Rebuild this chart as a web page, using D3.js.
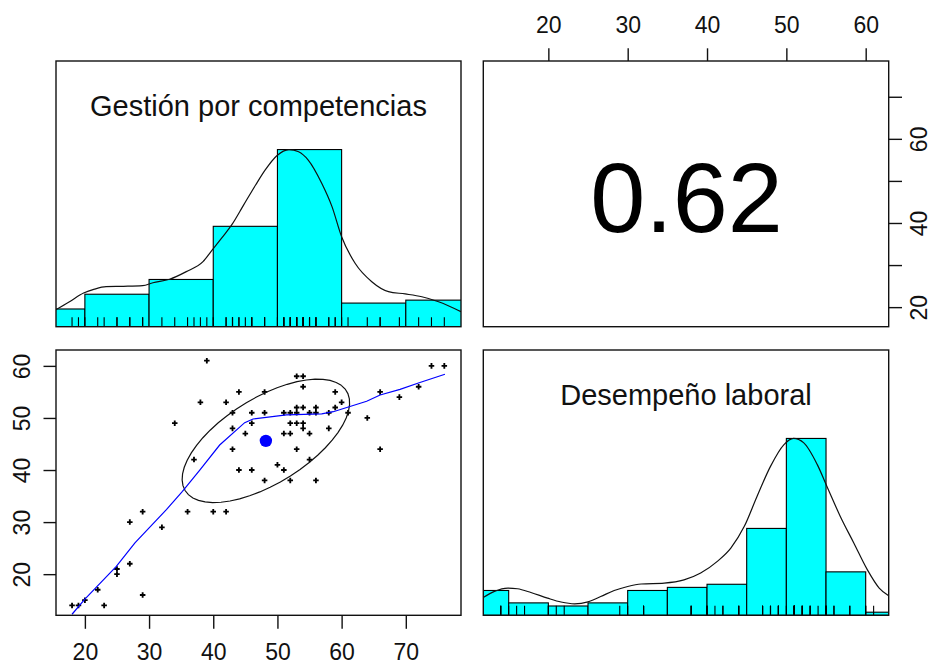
<!DOCTYPE html>
<html>
<head>
<meta charset="utf-8">
<script src="https://cdn.jsdelivr.net/npm/d3@7"></script>
<style>
  html, body { margin: 0; padding: 0; background: #fff; }
  svg { display: block; font-family: "Liberation Sans", Arial, Helvetica, sans-serif; }
</style>
</head>
<body>
<svg id="chart" width="932" height="664"></svg>
<script>
// ---- data ----------------------------------------------------------------
const varNames = ["Gestión por competencias", "Desempeño laboral"];
const correlation = 0.62;

// histogram bins (counts per bin between consecutive breaks)
const gestionBreaks = [10, 20, 30, 40, 50, 60, 70, 80];
const gestionCounts = [6, 11, 16, 34, 60, 8, 9];
const desempenoBreaks = [10, 15, 20, 25, 30, 35, 40, 45, 50, 55, 60, 65];
const desempenoCounts = [8, 4, 3, 4, 8, 9, 10, 28, 57, 14, 1];

// kernel density, scaled to its own maximum: [value, relative height]
const gestionDensity = [
  [15.4, 0.094], [17.6, 0.141], [19.8, 0.19], [21.5, 0.212], [23.3, 0.226],
  [26.0, 0.228], [29.0, 0.232], [30.6, 0.248], [33.2, 0.268], [35.8, 0.311],
  [38.4, 0.367], [39.7, 0.426], [41.3, 0.50], [42.9, 0.576], [44.7, 0.685],
  [46.6, 0.80], [48.1, 0.885], [49.9, 0.965], [51.8, 1.0], [53.3, 0.988],
  [54.8, 0.941], [56.9, 0.81], [58.5, 0.678], [60.0, 0.508], [62.1, 0.358],
  [64.7, 0.254], [67.3, 0.198], [69.9, 0.185], [72.5, 0.169], [75.1, 0.141],
  [78.6, 0.085]
];
const desempenoDensity = [
  [11.8, 0.10], [13.2, 0.135], [14.9, 0.154], [16.1, 0.15], [17.8, 0.129],
  [19.9, 0.097], [21.6, 0.075], [23.3, 0.065], [25.0, 0.076], [26.6, 0.106],
  [28.3, 0.14], [30.0, 0.163], [31.7, 0.177], [34.6, 0.182], [37.1, 0.2],
  [39.2, 0.239], [41.3, 0.305], [43.0, 0.38], [44.7, 0.503], [46.3, 0.672],
  [48.0, 0.842], [49.7, 0.965], [50.9, 1.0], [52.2, 0.975], [53.9, 0.852],
  [55.2, 0.72], [56.8, 0.559], [58.5, 0.409], [60.2, 0.258], [61.7, 0.154],
  [62.9, 0.11]
];

// raw scores, one entry per respondent
const gestionScores = [18, 19, 20, 22, 23, 25, 25, 27, 27, 29, 29, 32, 34, 36, 37, 38, 39, 40,
  42, 42, 43, 43, 43, 44, 44, 45, 46, 46, 46, 48, 48, 48, 50, 51, 51, 51, 52, 52, 52, 52,
  53, 53, 53, 53, 53, 54, 54, 54, 54, 54, 55, 55, 55, 56, 56, 56, 58, 58, 59, 59, 60, 61,
  64, 66, 66, 69, 72, 74, 76];
const desempenoScores = [14, 14, 15, 17, 14, 21, 20, 30, 22, 32, 16, 29, 49, 32, 42, 53, 61, 32,
  53, 32, 51, 48, 44, 55, 40, 47, 51, 49, 40, 55, 51, 38, 41, 51, 47, 40, 51, 47, 49, 38,
  58, 52, 51, 49, 44, 58, 56, 52, 49, 48, 51, 47, 42, 52, 51, 38, 51, 48, 55, 52, 53, 51,
  50, 55, 44, 54, 56, 60, 60];

// locally weighted smoother through the scatter: [gestión, desempeño]
const loessFit = [
  [18.0, 12.3], [20.0, 15.2], [24.9, 21.5], [27.8, 26.0], [32.7, 32.4], [35.2, 35.9],
  [37.9, 40.0], [41.0, 44.8], [44.9, 49.1], [46.2, 49.8], [51.4, 50.6], [56.9, 50.8],
  [58.7, 51.2], [61.3, 52.2], [63.9, 53.2], [66.0, 54.4], [69.1, 55.5], [72.2, 56.8],
  [76.1, 58.4]
];

// bivariate summary for the correlation ellipse
const means = [48.2, 45.6];
const sds = [13.05, 11.85];

// axis ticks
const gestionTicks = [20, 30, 40, 50, 60, 70];
const desempenoTicks = [20, 30, 40, 50, 60];
const gestionRightLabels = [20, 40, 60];

// ---- layout ----------------------------------------------------------------
const svg = d3.select("#chart");
const cols = [[56, 461], [483.3, 888.7]];
const rows = [[61, 326.7], [350, 615.3]];
const tickFont = "23px";

const xG = d3.scaleLinear().domain([15.5, 78.6]).range(cols[0]);
const xD = d3.scaleLinear().domain([11.8, 62.9]).range(cols[1]);
const yG = d3.scaleLinear().domain([15.35, 78.5]).range([rows[0][1], rows[0][0]]);
const yD = d3.scaleLinear().domain([12.1, 63.05]).range([rows[1][1], rows[1][0]]);
const hTop = d3.scaleLinear().domain([0, 1.5]).range([rows[0][1], rows[0][0]]);
const hBot = d3.scaleLinear().domain([0, 1.5]).range([rows[1][1], rows[1][0]]);

const defs = svg.append("defs");
function panel(id, c, r) {
  defs.append("clipPath").attr("id", id).append("rect")
    .attr("x", c[0]).attr("y", r[0]).attr("width", c[1] - c[0]).attr("height", r[1] - r[0]);
  return svg.append("g").attr("clip-path", `url(#${id})`);
}
function frame(c, r) {
  svg.append("rect").attr("x", c[0]).attr("y", r[0])
    .attr("width", c[1] - c[0]).attr("height", r[1] - r[0])
    .attr("fill", "none").attr("stroke", "#111").attr("stroke-width", 1.4);
}

// ---- diagonal: histogram + density + rug ---------------------------------
function histPanel(id, c, r, breaks, counts, density, scores, xs, hs, title) {
  const g = panel(id, c, r);
  const maxC = d3.max(counts);
  g.selectAll("rect.bar").data(counts).join("rect").attr("class", "bar")
    .attr("x", (d, i) => xs(breaks[i]))
    .attr("width", (d, i) => xs(breaks[i + 1]) - xs(breaks[i]))
    .attr("y", d => hs(d / maxC))
    .attr("height", d => hs(0) - hs(d / maxC))
    .attr("fill", "#00FFFF").attr("stroke", "#000").attr("stroke-width", 1.1);
  g.append("path").datum(density)
    .attr("d", d3.line().x(d => xs(d[0])).y(d => hs(d[1])).curve(d3.curveMonotoneX))
    .attr("fill", "none").attr("stroke", "#111").attr("stroke-width", 1.2);
  g.selectAll("line.rug").data(scores).join("line").attr("class", "rug")
    .attr("x1", d => xs(d)).attr("x2", d => xs(d))
    .attr("y1", hs(0)).attr("y2", hs(0) - 9.5)
    .attr("stroke", "#000").attr("stroke-width", 1.1);
  svg.append("text").attr("x", (c[0] + c[1]) / 2).attr("y", r[0] + 55)
    .attr("text-anchor", "middle").attr("font-size", "29px").attr("fill", "#111")
    .text(title);
  frame(c, r);
}

histPanel("clipA", cols[0], rows[0], gestionBreaks, gestionCounts, gestionDensity,
  gestionScores, xG, hTop, varNames[0]);
histPanel("clipD", cols[1], rows[1], desempenoBreaks, desempenoCounts, desempenoDensity,
  desempenoScores, xD, hBot, varNames[1]);

// ---- upper panel: correlation ----------------------------------------------
svg.append("text")
  .attr("x", (cols[1][0] + cols[1][1]) / 2 + 0.5).attr("y", 231.7)
  .attr("text-anchor", "middle").attr("font-size", "99px").attr("fill", "#000")
  .text(correlation.toFixed(2));
frame(cols[1], rows[0]);

// ---- lower panel: scatter, smoother, ellipse -------------------------------
const gs = panel("clipC", cols[0], rows[1]);
const pts = d3.zip(gestionScores, desempenoScores);
gs.selectAll("path.pt").data(pts).join("path").attr("class", "pt")
  .attr("transform", d => `translate(${xG(d[0])},${yD(d[1])})`)
  .attr("d", d3.symbol(d3.symbolCross, 17))
  .attr("fill", "#000");

function ellipsePoints(mx, my, sx, sy, r, segments) {
  const th = Math.sign(r) / Math.SQRT2, a = Math.sqrt(1 + r), b = Math.sqrt(1 - r);
  return d3.range(segments + 1).map(i => {
    const ang = i * 2 * Math.PI / segments, c = Math.cos(ang), s = Math.sin(ang);
    return [mx + sx * (c * a * th - s * b * th), my + sy * (c * a * th + s * b * th)];
  });
}
gs.append("path").datum(ellipsePoints(means[0], means[1], sds[0], sds[1], correlation, 51))
  .attr("d", d3.line().x(d => xG(d[0])).y(d => yD(d[1])))
  .attr("fill", "none").attr("stroke", "#111").attr("stroke-width", 1.2);

gs.append("path").datum(loessFit)
  .attr("d", d3.line().x(d => xG(d[0])).y(d => yD(d[1])))
  .attr("fill", "none").attr("stroke", "#0000FF").attr("stroke-width", 1.2);

gs.append("circle").attr("cx", xG(means[0])).attr("cy", yD(means[1])).attr("r", 6.2)
  .attr("fill", "#0000FF");
frame(cols[0], rows[1]);

// ---- axes ------------------------------------------------------------------
function styleAxis(g) {
  g.attr("font-size", tickFont).attr("font-family", null);
  g.select(".domain").remove();
  g.selectAll(".tick line").attr("stroke", "#111").attr("stroke-width", 1.4);
  g.selectAll(".tick text").attr("fill", "#111");
}

// bottom axis, column 1
const axB = svg.append("g").attr("transform", `translate(0,${rows[1][1]})`)
  .call(d3.axisBottom(xG).tickValues(gestionTicks).tickSize(13.5).tickSizeOuter(0));
styleAxis(axB);
axB.selectAll(".tick text").attr("y", 45).attr("dy", 0);

// top axis, column 2
const axT = svg.append("g").attr("transform", `translate(0,${rows[0][0]})`)
  .call(d3.axisTop(xD).tickValues(desempenoTicks).tickSize(12.7).tickSizeOuter(0));
styleAxis(axT);
axT.selectAll(".tick text").attr("y", -27.7).attr("dy", 0);

// left axis, row 2
const axL = svg.append("g").attr("transform", `translate(${cols[0][0]},0)`)
  .call(d3.axisLeft(yD).tickValues(desempenoTicks).tickSize(12.5).tickSizeOuter(0));
styleAxis(axL);
axL.selectAll(".tick text").attr("x", null).attr("dy", 0)
  .attr("text-anchor", "middle").attr("transform", "translate(-26,0) rotate(-90)");

// right axis, row 1
const axR = svg.append("g").attr("transform", `translate(${cols[1][1]},0)`)
  .call(d3.axisRight(yG).tickValues(gestionTicks).tickSize(13.3).tickSizeOuter(0)
    .tickFormat(d => gestionRightLabels.includes(d) ? d : ""));
styleAxis(axR);
axR.selectAll(".tick text").attr("x", null).attr("dy", 0)
  .attr("text-anchor", "middle").attr("transform", "translate(37.8,0) rotate(-90)");
</script>
</body>
</html>
